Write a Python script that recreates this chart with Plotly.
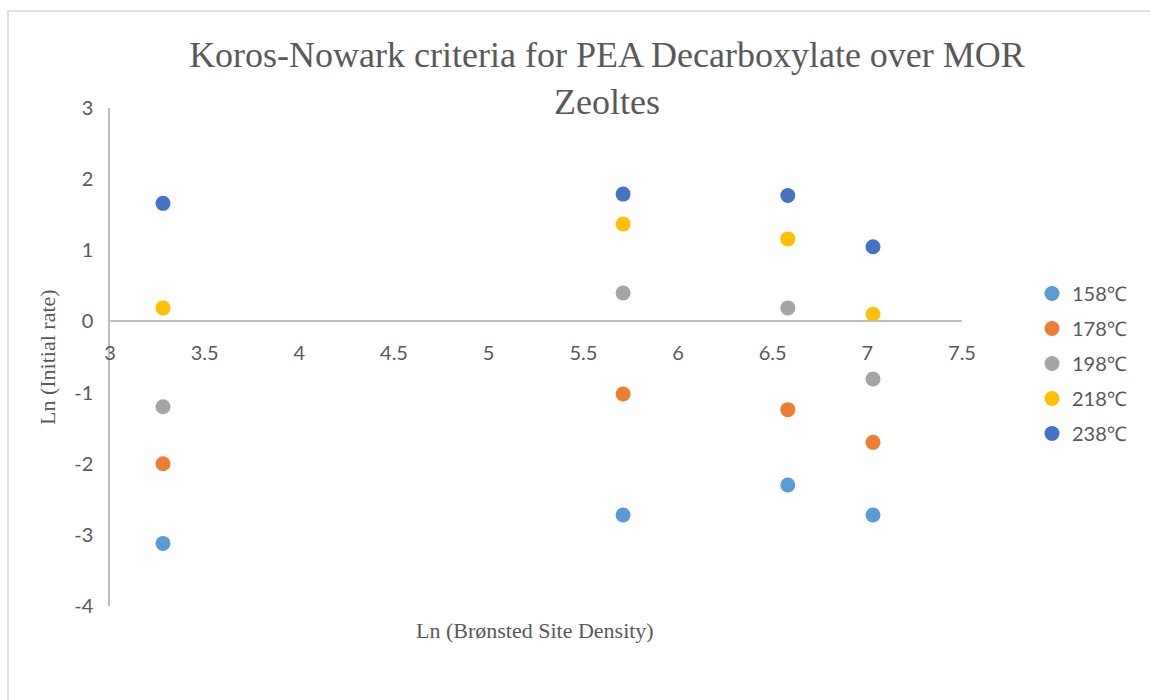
import plotly.graph_objects as go

# Ln (Brønsted site density) for the four MOR samples
site_density = [3.28, 5.71, 6.58, 7.03]

temps = ["158℃", "178℃", "198℃", "218℃", "238℃"]
colors = ["#5B9BD5", "#ED7D31", "#A5A5A5", "#FFC000", "#4472C4"]

# Ln (initial rate) per temperature
rate_158 = [-3.12, -2.72, -2.30, -2.72]
rate_178 = [-2.00, -1.02, -1.24, -1.70]
rate_198 = [-1.20, 0.40, 0.19, -0.81]
rate_218 = [0.19, 1.37, 1.16, 0.10]
rate_238 = [1.66, 1.79, 1.77, 1.05]
rates = [rate_158, rate_178, rate_198, rate_218, rate_238]

x_ticks = [3, 3.5, 4, 4.5, 5, 5.5, 6, 6.5, 7, 7.5]
x_labels = ["3", "3.5", "4", "4.5", "5", "5.5", "6", "6.5", "7", "7.5"]
y_ticks = [-4, -3, -2, -1, 0, 1, 2, 3]
y_labels = ["-4", "-3", "-2", "-1", "0", "1", "2", "3"]

W, H = 1150, 700
L, R, T, B = 110, 188, 108, 94
pw, ph = W - L - R, H - T - B

fig = go.Figure()
for i, (name, ys) in enumerate(zip(temps, rates)):
    fig.add_trace(go.Scatter(
        x=site_density, y=ys, mode="markers", name=name,
        legendgroup=name,
        marker=dict(size=15, color=colors[i]),
    ))

axis_font = dict(family="Lato, Noto Sans, sans-serif", size=20, color="#595959")
serif = "Liberation Serif, Times New Roman, serif"


def px_x(px):
    return (px - L) / pw


def px_y(py):
    return (H - B - py) / ph


fig.update_layout(
    width=W, height=H,
    paper_bgcolor="white", plot_bgcolor="white",
    margin=dict(l=L, r=R, t=T, b=B),
    title=dict(
        text="Koros-Nowark criteria for PEA Decarboxylate over MOR<br>Zeoltes",
        x=607 / W, xref="container", xanchor="center",
        y=1 - 67 / H, yref="container", yanchor="top",
        font=dict(family=serif, size=36, color="#595959"),
    ),
    xaxis=dict(
        range=[3, 7.5], tickvals=x_ticks, ticktext=x_labels,
        anchor="free", position=4 / 7,
        showline=True, linecolor="#bfbfbf", linewidth=1.5,
        showgrid=False, zeroline=False, ticks="",
        ticklabelstandoff=14,
        tickfont=axis_font,
    ),
    yaxis=dict(
        range=[-4, 3], tickvals=y_ticks, ticktext=y_labels,
        showline=True, linecolor="#bfbfbf", linewidth=1.5,
        showgrid=False, zeroline=False, ticks="",
        ticklabelstandoff=11,
        tickfont=axis_font,
    ),
    legend=dict(
        x=px_x(1032), y=px_y(274), xanchor="left", yanchor="top",
        font=dict(family="Lato, Noto Sans, sans-serif", size=20, color="#595959"),
        tracegroupgap=6, itemwidth=30,
    ),
    annotations=[
        dict(text="Ln (Initial rate)", textangle=-90,
             x=px_x(47), y=px_y(357), xref="paper", yref="paper",
             xanchor="center", yanchor="middle",
             showarrow=False, font=dict(family=serif, size=22, color="#595959")),
        dict(text="Ln (Brønsted Site Density)",
             x=px_x(535), y=px_y(630), xref="paper", yref="paper",
             xanchor="center", yanchor="middle",
             showarrow=False, font=dict(family=serif, size=22, color="#595959")),
    ],
    shapes=[
        dict(type="rect", xref="paper", yref="paper",
             x0=px_x(8), x1=px_x(W + 10), y0=px_y(H + 10), y1=px_y(11),
             line=dict(color="#d9d9d9", width=1.5), layer="below"),
    ],
)

fig.write_html("out.html", config={"displayModeBar": False},
               post_script="document.body.style.margin='0';")
